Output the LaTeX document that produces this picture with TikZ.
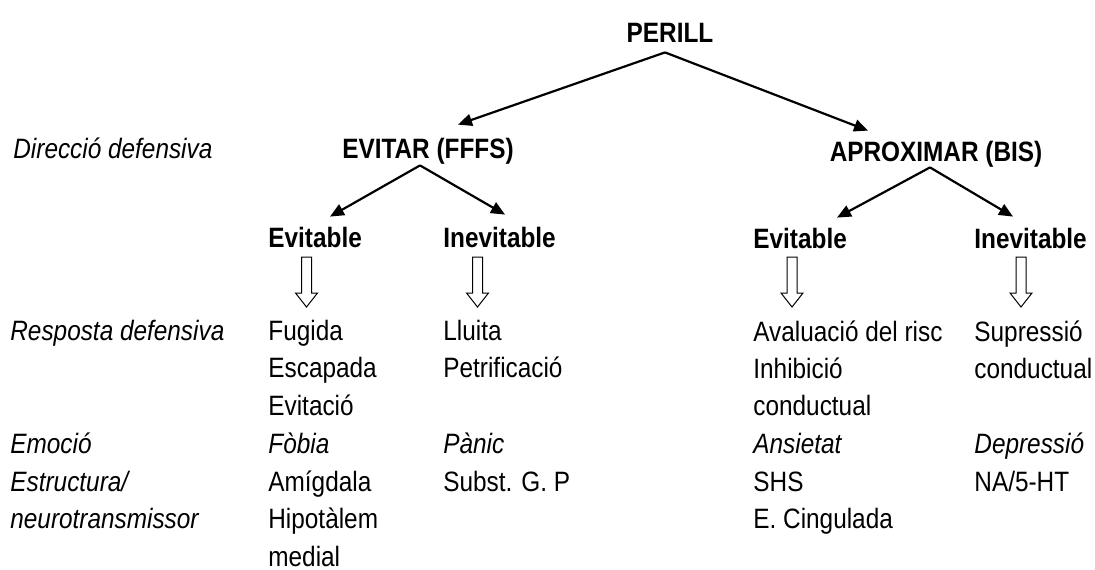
\documentclass[tikz,border=0pt]{standalone}
\usepackage{fontspec}
\setmainfont{Liberation Sans}[FakeStretch=0.87]
\usetikzlibrary{arrows.meta}

\tikzset{
  head/.style={font=\fontsize{14}{17}\selectfont\bfseries, inner sep=0pt, text height=10pt, text depth=3pt},
  txt/.style={font=\fontsize{14}{17}\selectfont, inner sep=0pt, anchor=base west},
  lbl/.style={txt, font=\fontsize{14}{17}\selectfont\itshape},
  arr/.style={-{Triangle[length=7pt,width=6pt]}, line width=1.1pt},
  hollow/.style={draw=black, line width=0.5pt, fill=white},
}

\begin{document}
\begin{tikzpicture}[x=0.5pt, y=-0.5pt]
    \useasboundingbox (0,0) rectangle (1095,569);

    % tree
    \node[head, anchor=base] (perill) at (670,42) {PERILL};
    \node[head, anchor=base] (evitar) at (428,158) {EVITAR (FFFS)};
    \node[head, anchor=base] (aprox) at (936,161) {APROXIMAR (BIS)};
    \node[head, anchor=base west] (evit1) at (268,247) {Evitable};
    \node[head, anchor=base west] (inev1) at (443,247) {Inevitable};
    \node[head, anchor=base west] (evit2) at (753,248) {Evitable};
    \node[head, anchor=base west] (inev2) at (974,248) {Inevitable};

    \draw[arr] ([xshift=-2.5pt,yshift=-2pt]perill.south) -- ([xshift=15pt,yshift=6.5pt]evitar.north);
    \draw[arr] ([xshift=-2.5pt,yshift=-2pt]perill.south) -- ([xshift=-34pt,yshift=5pt]aprox.north);
    \draw[arr] ([xshift=-4pt,yshift=-0.5pt]evitar.south) -- ([xshift=31pt,yshift=5pt]evit1.north west);
    \draw[arr] ([xshift=-4pt,yshift=-0.5pt]evitar.south) -- ([xshift=31pt,yshift=6pt]inev1.north west);
    \draw[arr] ([xshift=-3pt]aprox.south) -- ([xshift=42pt,yshift=5pt]evit2.north west);
    \draw[arr] ([xshift=-3pt]aprox.south) -- ([xshift=19.5pt,yshift=5.5pt]inev2.north west);

    % hollow arrows
    \foreach \x in {306.5,477.5,792,1021}
      \draw[hollow] (\x-5,257) -- (\x+5,257) -- (\x+5,293) -- (\x+11,293)
        -- (\x,307) -- (\x-11,293) -- (\x-5,293) -- cycle;

    % row labels
    \node[lbl] (direccio) at (13,158) {Direcció defensiva};
    \node[lbl] (resposta) at (10,340) {Resposta defensiva};
    \node[lbl] (emocio) at (10,453) {Emoció};
    \node[lbl] (estruct) at (10,491) {Estructura/};
    \node[lbl] (neuro) at (10,528.5) {neurotransmissor};

    % evitar, evitable
    \node[txt] (fugida) at (268,340) {Fugida};
    \node[txt] (escapada) at (268,377.7) {Escapada};
    \node[txt] (evitacio) at (268,415.4) {Evitació};
    \node[lbl] (fobia) at (268,453) {Fòbia};
    \node[txt] (amigdala) at (268,491) {Amígdala};
    \node[txt] (hipotal) at (268,528.5) {Hipotàlem};
    \node[txt] (medial) at (268,566) {medial};

    % evitar, inevitable
    \node[txt] (lluita) at (443,340) {Lluita};
    \node[txt] (petrif) at (443,377.7) {Petrificació};
    \node[lbl] (panic) at (443,453) {Pànic};
    \node[txt] (subst) at (443,491) {Subst. G. P};

    % aproximar, evitable
    \node[txt] (avalua) at (753,341) {Avaluació del risc};
    \node[txt] (inhib) at (753,378) {Inhibició};
    \node[txt] (conduct1) at (753,415.4) {conductual};
    \node[lbl] (ansietat) at (753,453) {Ansietat};
    \node[txt] (shs) at (753,491) {SHS};
    \node[txt] (cingul) at (753,528.5) {E. Cingulada};

    % aproximar, inevitable
    \node[txt] (supress) at (974,341) {Supressió};
    \node[txt] (conduct2) at (974,378) {conductual};
    \node[lbl] (depress) at (974,453) {Depressió};
    \node[txt] (nahT) at (974,491) {NA/5-HT};

\end{tikzpicture}
\end{document}
